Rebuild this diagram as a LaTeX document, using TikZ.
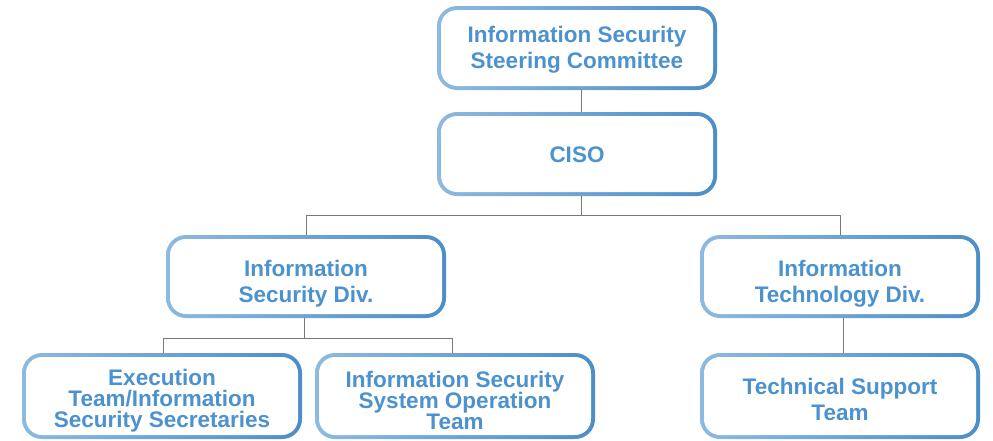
\documentclass[tikz,border=0pt]{standalone}
\usepackage{fontspec}
\setmainfont{Liberation Sans}
\definecolor{txtblue}{RGB}{76,146,206}
\definecolor{bordL}{RGB}{140,186,224}
\definecolor{bordR}{RGB}{76,142,200}
\definecolor{linegray}{RGB}{120,120,120}
\tikzset{
  orgbox/.style={minimum width=280pt, minimum height=84pt, rounded corners=20pt, inner sep=0pt,
    path picture={
      \shade[left color=bordL,right color=bordR] (path picture bounding box.south west) rectangle (path picture bounding box.north east);
      \fill[white,rounded corners=16pt] ([shift={(4pt,4pt)}]path picture bounding box.south west) rectangle ([shift={(-4pt,-4pt)}]path picture bounding box.north east);}},
  boxtext/.style={inner sep=0pt, align=center, text=txtblue, font=\bfseries\fontsize{22.5}{26}\selectfont},
  tightlead/.style={font=\bfseries\fontsize{22.5}{21}\selectfont},
  conn/.style={draw=linegray, line width=0.9pt}
}
\begin{document}
\begin{tikzpicture}[x=1pt,y=-1pt]
\useasboundingbox (0,0) rectangle (993,440);
\node[orgbox] (top) at (577,48) {};
\node[orgbox] (ciso) at (577,154) {};
\node[orgbox, minimum height=83pt] (isd) at (306,276.5) {};
\node[orgbox, minimum height=83pt] (itd) at (840,276.5) {};
\node[orgbox, minimum height=86pt] (exec) at (162,396) {};
\node[orgbox, minimum height=86pt] (isso) at (455,396) {};
\node[orgbox, minimum height=86pt] (tst) at (840,396) {};
\node[boxtext] (toptxt) at ([yshift=-1.5pt]top.center) {Information Security\\Steering Committee};
\node[boxtext] (cisotxt) at ([yshift=-1pt]ciso.center) {CISO};
\node[boxtext] (isdtxt) at ([yshift=-7pt]isd.center) {Information\\Security Div.};
\node[boxtext] (itdtxt) at ([yshift=-7pt]itd.center) {Information\\Technology Div.};
\node[boxtext, tightlead] (exectxt) at ([yshift=-5pt]exec.center) {Execution\\Team/Information\\Security Secretaries};
\node[boxtext, tightlead] (issotxt) at ([yshift=-4pt]isso.center) {Information Security\\System Operation\\Team};
\node[boxtext] (tsttxt) at ([yshift=-3pt]tst.center) {Technical Support\\Team};
\coordinate (j1) at ([xshift=4pt]ciso.south |- 0,215);
\coordinate (j2) at ([xshift=-2pt]isd.south |- 0,338);
\draw[conn] ([xshift=4pt]top.south) -- ([xshift=4pt]ciso.north);
\draw[conn] ([xshift=4pt]ciso.south) -- (j1);
\draw[conn] (j1) -| (isd.north);
\draw[conn] (j1) -| (itd.north);
\draw[conn] ([xshift=-2pt]isd.south) -- (j2);
\draw[conn] (j2) -| ([xshift=1pt]exec.north);
\draw[conn] (j2) -| ([xshift=-3pt]isso.north);
\draw[conn] ([xshift=3pt]itd.south) -- ([xshift=3pt]tst.north);
\end{tikzpicture}
\end{document}
